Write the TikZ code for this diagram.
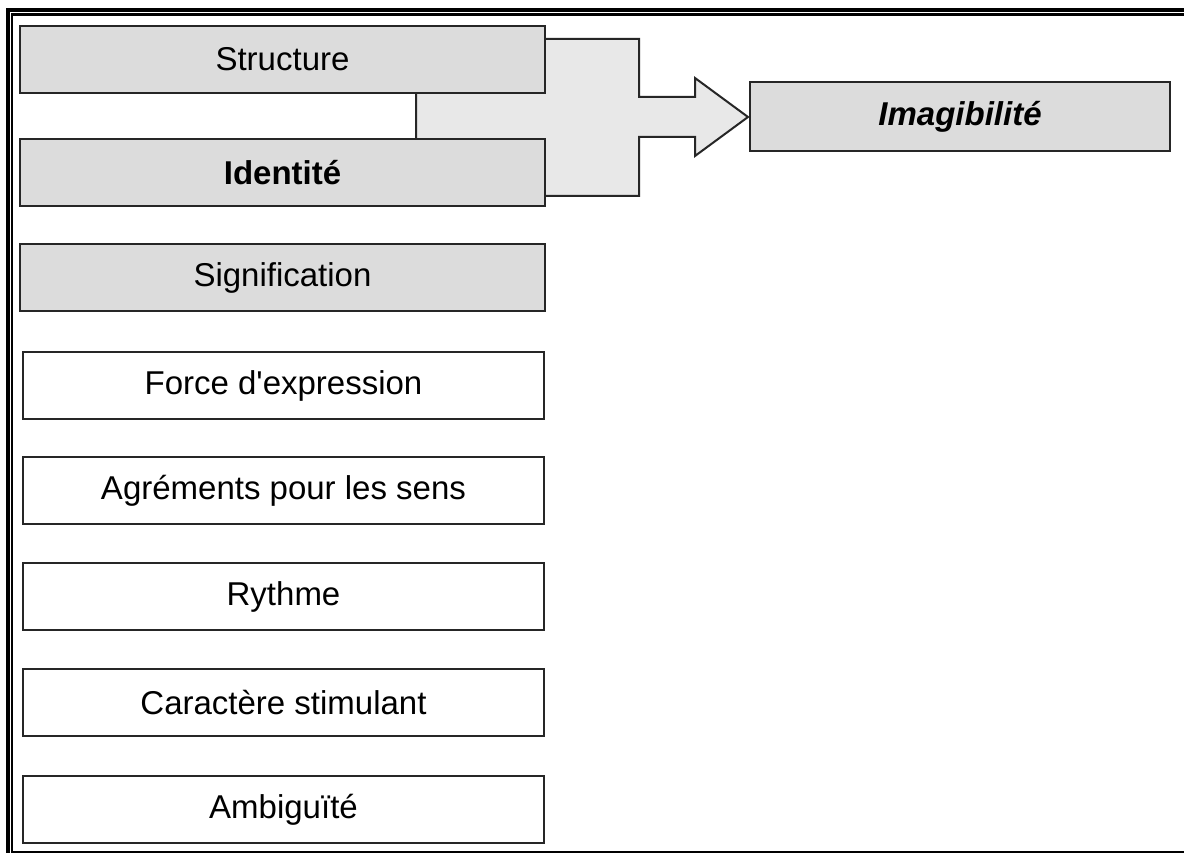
\documentclass[tikz,border=0pt]{standalone}
\usepackage{fontspec}
\setmainfont{Liberation Sans}
\newfontfamily\plainfont{Liberation Sans}
\begin{document}
\begin{tikzpicture}[x=1pt,y=-1pt,
  txt/.style={font=\plainfont\fontsize{33}{39}\selectfont},
  graybox/.style={draw=black!85, line width=2pt, fill={rgb,255:red,220;green,220;blue,220}, rectangle, anchor=north west, minimum width=525pt, minimum height=67pt, inner sep=0pt, txt},
  whitebox/.style={draw=black!85, line width=2pt, fill=white, rectangle, anchor=north west, minimum width=521pt, minimum height=67pt, inner sep=0pt, txt},
  arrowfill/.style={draw=black!85, line width=2pt, fill={rgb,255:red,232;green,232;blue,232}, line join=miter}
]
\useasboundingbox (0,0) rectangle (1184,853);
\fill[white] (0,0) rectangle (1184,853);
% frame
\fill[black] (6,8) rectangle (10,853);
\fill[black] (6,8) rectangle (1184,12);
\fill[black] (11,13) rectangle (13.3,853);
\fill[black] (11,13) rectangle (1184,16);
\fill[black] (11,851) rectangle (1184,853);
% block arrow
\draw[arrowfill] (416,39) -- (639,39) -- (639,97) -- (695,97) -- (695,78) -- (748,117)
  -- (695,156) -- (695,137) -- (639,137) -- (639,196) -- (416,196) -- cycle;
% boxes
\node[graybox] (structure) at (19,25) {Structure};
\node[graybox] (identite) at (19,138) {\bfseries Identité};
\node[graybox] (signification) at (19,243) {Signification};
\node[whitebox] (force) at (22,351) {Force d'expression};
\node[whitebox] (agrements) at (22,456) {Agréments pour les sens};
\node[whitebox] (rythme) at (22,562) {Rythme};
\node[whitebox] (caractere) at (22,668) {Caractère stimulant};
\node[whitebox] (ambiguite) at (22,775) {Ambiguïté};
\node[graybox, minimum width=420pt, minimum height=69pt] (imagibilite) at (749,81) {\bfseries\itshape Imagibilité};
\end{tikzpicture}
\end{document}
